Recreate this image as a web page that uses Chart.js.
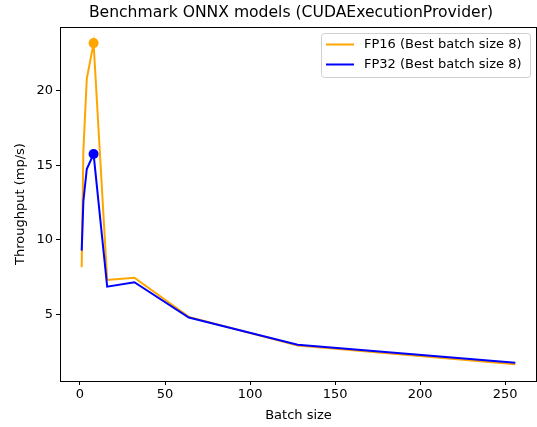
<!DOCTYPE html>
<html>
<head>
<meta charset="utf-8">
<script src="https://cdn.jsdelivr.net/npm/chart.js@4.4.1/dist/chart.umd.min.js"></script>
<style>
  html, body { margin: 0; padding: 0; background: #fff; }
  #wrap { width: 537px; height: 427px; }
</style>
</head>
<body>
<div id="wrap"><canvas id="benchchart" width="537" height="427"></canvas></div>
<script>
// batch sizes on x, throughput (mp/s) per precision
var batchSizes = [1, 2, 4, 8, 16, 32, 64, 128, 256];
var fp16 = [8.15, 16.0, 20.8, 23.2, 7.3, 7.45, 4.82, 2.9, 1.65];
var fp32 = [9.27, 12.6, 14.75, 15.75, 6.85, 7.15, 4.78, 2.95, 1.75];
var xTicks = [0, 50, 100, 150, 200, 250];
var yTicks = [5, 10, 15, 20];
var labels = ["FP16 (Best batch size 8)", "FP32 (Best batch size 8)"];
var chartTitle = 'Benchmark ONNX models (CUDAExecutionProvider)';
var bestBatch = 8;

var FONT = "'DejaVu Sans', sans-serif";

function toPoints(vals) {
    var pts = [];
    for (var i = 0; i < batchSizes.length; i++) {
        pts.push({ x: batchSizes[i], y: vals[i] });
    }
    return pts;
}
// only the best batch size gets a marker
var radii = batchSizes.map(function (b) { return b === bestBatch ? 5 : 0; });

// title centred over the axes, frame (top + right spines) and the boxed legend
var framePlugin = {
    id: 'frame',
    afterDraw: function (chart) {
        var ctx = chart.ctx, a = chart.chartArea;
        ctx.save();
        ctx.fillStyle = '#000';
        ctx.font = '15.6px ' + FONT;
        ctx.textAlign = 'center';
        ctx.textBaseline = 'middle';
        ctx.fillText(chartTitle, 291, 13);

        ctx.strokeStyle = '#000';
        ctx.lineWidth = 1;
        ctx.beginPath();
        ctx.moveTo(a.left, a.top + 0.5);
        ctx.lineTo(a.right, a.top + 0.5);
        ctx.moveTo(a.right - 0.5, a.top);
        ctx.lineTo(a.right - 0.5, a.bottom);
        ctx.stroke();

        // legend
        var bx = 321, by = 33, bw = 209, bh = 44;
        ctx.fillStyle = 'rgba(255,255,255,0.8)';
        ctx.strokeStyle = '#d0d0d0';
        ctx.lineWidth = 1;
        ctx.beginPath();
        ctx.roundRect(bx + 0.5, by + 0.5, bw, bh, 3);
        ctx.fill();
        ctx.stroke();
        ctx.font = '13px ' + FONT;
        ctx.textAlign = 'left';
        ctx.textBaseline = 'middle';
        chart.data.datasets.forEach(function (ds, i) {
            var y = by + 11.5 + i * 20;
            ctx.strokeStyle = ds.borderColor;
            ctx.lineWidth = 2;
            ctx.beginPath();
            ctx.moveTo(bx + 5, y);
            ctx.lineTo(bx + 33, y);
            ctx.stroke();
            ctx.fillStyle = '#000';
            ctx.fillText(ds.label, bx + 43, y);
        });
        ctx.restore();
    }
};

var ctx = document.getElementById('benchchart');
var chart = new Chart(ctx, {
    type: 'line',
    data: {
        datasets: [
            {
                label: labels[0],
                data: toPoints(fp16),
                borderColor: '#FFA500',
                backgroundColor: '#FFA500',
                borderWidth: 2,
                pointRadius: radii,
                pointBorderWidth: 0,
                tension: 0,
                order: 1
            },
            {
                label: labels[1],
                data: toPoints(fp32),
                borderColor: '#0000FF',
                backgroundColor: '#0000FF',
                borderWidth: 2,
                pointRadius: radii,
                pointBorderWidth: 0,
                tension: 0,
                order: 0
            }
        ]
    },
    options: {
        responsive: false,
        animation: false,
        layout: { padding: { left: 0, right: 0, top: 27, bottom: 0 } },
        plugins: {
            legend: { display: false },
            tooltip: { enabled: false },
            title: { display: false }
        },
        scales: {
            x: {
                type: 'linear',
                min: -11.75,
                max: 268.75,
                afterBuildTicks: function (s) { s.ticks = xTicks.map(function (v) { return { value: v }; }); },
                afterFit: function (s) { s.height = 46; },
                grid: { display: true, drawOnChartArea: false, drawTicks: true, tickLength: 4, color: '#000' },
                border: { display: true, color: '#000', width: 1 },
                ticks: { color: '#000', font: { family: FONT, size: 13 }, padding: 2, maxRotation: 0 },
                title: { display: true, text: 'Batch size', color: '#000', font: { family: FONT, size: 13 }, padding: { top: 2, bottom: 4 } }
            },
            y: {
                type: 'linear',
                min: 0.52,
                max: 24.28,
                afterBuildTicks: function (s) { s.ticks = yTicks.map(function (v) { return { value: v }; }); },
                afterFit: function (s) { s.width = 60; },
                grid: { display: true, drawOnChartArea: false, drawTicks: true, tickLength: 4, color: '#000' },
                border: { display: true, color: '#000', width: 1 },
                ticks: { color: '#000', font: { family: FONT, size: 13 }, padding: 3 },
                title: { display: true, text: 'Throughput (mp/s)', color: '#000', font: { family: FONT, size: 13 }, padding: { top: 13, bottom: 0 } }
            }
        }
    },
    plugins: [framePlugin]
});
</script>
</body>
</html>
